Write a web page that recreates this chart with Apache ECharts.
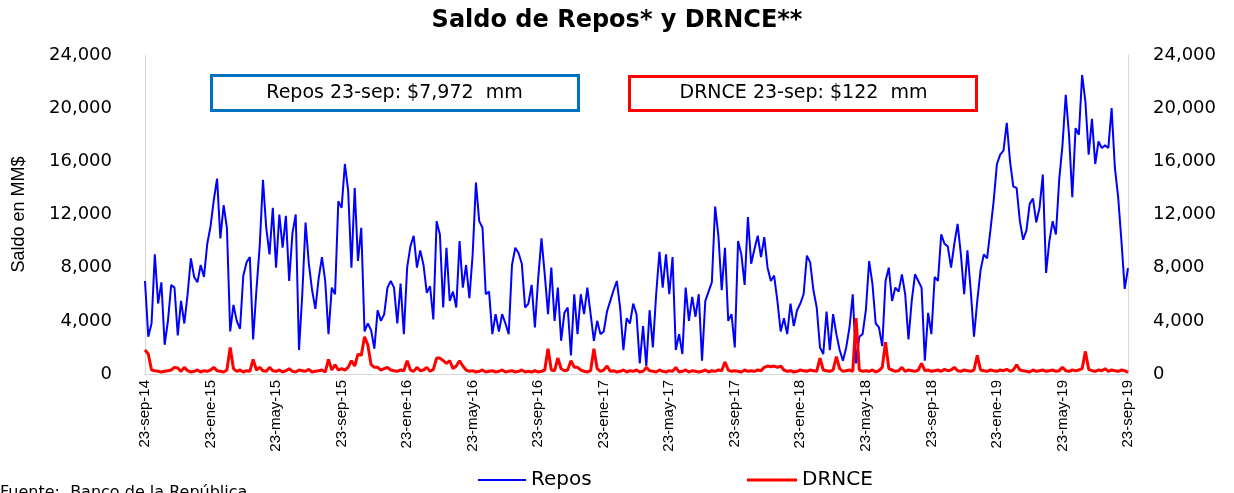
<!DOCTYPE html>
<html>
<head>
<meta charset="utf-8">
<script src="https://cdn.jsdelivr.net/npm/echarts@6/dist/echarts.min.js"></script>
<style>
  html, body { margin: 0; padding: 0; background: #fff; }
  #chart { width: 1234px; height: 493px; }
</style>
</head>
<body>
<div id="chart"></div>
<script>
// one label every 20 points (4 months)
const tickLabels = ['23-sep-14', '23-ene-15', '23-may-15', '23-sep-15', '23-ene-16', '23-may-16',
  '23-sep-16', '23-ene-17', '23-may-17', '23-sep-17', '23-ene-18', '23-may-18',
  '23-sep-18', '23-ene-19', '23-may-19', '23-sep-19']

// Saldo de Repos (MM$)
const repos = [
  7000, 2800, 3800, 9000, 5300, 6900, 2200, 4000, 6700, 6500, 2900, 5500, 3800, 6000, 8700, 7300, 6900, 8200, 7300, 9800,
  11100, 13100, 14700, 10200, 12700, 11000, 3200, 5200, 4000, 3400, 7400, 8400, 8800, 2600, 6300, 9600, 14600, 11000, 9000, 12500,
  8000, 12000, 9500, 11900, 7000, 10600, 12000, 1800, 6000, 11400, 8300, 6300, 4900, 7200, 8800, 7000, 3000, 6500, 6000, 13000,
  12500, 15800, 13800, 8000, 14000, 8500, 11000, 3200, 3800, 3300, 1900, 4800, 4000, 4500, 6500, 7000, 6500, 3800, 6800, 3000,
  8000, 9600, 10400, 8000, 9300, 8200, 6100, 6600, 4100, 11500, 10500, 5000, 9500, 5500, 6200, 5000, 10000, 6500, 8200, 5700,
  9000, 14400, 11500, 11000, 6000, 6200, 3000, 4500, 3200, 4500, 3800, 3000, 8200, 9500, 9100, 8300, 5000, 5300, 6700, 3500,
  7200, 10200, 7500, 4500, 8000, 4000, 6500, 2500, 4600, 5000, 1400, 6000, 3000, 6000, 4500, 6500, 4500, 2500, 4000, 3000,
  3200, 4700, 5500, 6300, 7000, 5000, 1800, 4200, 3800, 5300, 4500, 800, 3600, 600, 4800, 2000, 6000, 9200, 6500, 9000,
  6000, 8800, 1800, 3000, 1500, 6500, 4000, 5800, 4300, 6000, 1000, 5500, 6200, 6900, 12600, 10400, 6300, 9500, 4000, 4500,
  2000, 10000, 9000, 6700, 11800, 8300, 9400, 10400, 8800, 10300, 8000, 7000, 7400, 5500, 3200, 4200, 3000, 5300, 3600, 4800,
  5300, 6000, 8900, 8400, 6300, 5000, 2000, 1500, 4700, 1800, 4500, 3000, 1800, 1000, 2000, 3500, 6000, 800, 2800, 3000,
  4800, 8500, 6800, 3800, 3500, 2100, 7000, 8000, 5500, 6500, 6200, 7500, 6000, 2600, 5500, 7500, 7000, 6500, 1000, 4600,
  3000, 7300, 7000, 10500, 9800, 9600, 8000, 9800, 11300, 9000, 6000, 9300, 6300, 2800, 5500, 7800, 9000, 8700, 10800, 13000,
  15800, 16500, 16800, 18900, 16000, 14100, 14000, 11500, 10100, 10800, 12800, 13200, 11400, 12500, 15000, 7600, 10000, 11500, 10500, 14600,
  17200, 21000, 18000, 13300, 18500, 18000, 22500, 20500, 16500, 19200, 15800, 17500, 17000, 17200, 17000, 20000, 15500, 13300, 10000, 6400,
  7972
]

// Saldo DRNCE (MM$)
const drnce = [
  1800, 1500, 300, 250, 200, 150, 200, 250, 300, 500, 450, 200, 500, 250, 150, 200, 300, 150, 250, 200,
  300, 500, 250, 200, 150, 300, 2000, 400, 200, 300, 150, 250, 200, 1100, 300, 500, 250, 200, 500, 250,
  200, 300, 150, 250, 400, 200, 150, 300, 250, 200, 350, 150, 200, 250, 300, 150, 1100, 300, 700, 300,
  400, 300, 500, 1000, 600, 1500, 1400, 2800, 2200, 700, 500, 500, 300, 400, 500, 300, 250, 200, 300, 250,
  1000, 300, 200, 500, 250, 300, 500, 200, 350, 1200, 1200, 1000, 800, 1000, 400, 600, 1000, 600, 300, 200,
  250, 150, 200, 300, 150, 200, 250, 150, 200, 300, 150, 200, 250, 150, 200, 300, 150, 200, 150, 250,
  150, 200, 300, 1900, 300, 250, 1200, 400, 250, 300, 1000, 500, 500, 300, 200, 150, 250, 1900, 400, 200,
  300, 600, 200, 250, 150, 200, 300, 150, 250, 200, 300, 150, 200, 500, 250, 200, 150, 300, 200, 150,
  250, 200, 500, 150, 200, 300, 150, 250, 200, 150, 200, 300, 150, 250, 200, 300, 250, 900, 300, 200,
  250, 200, 150, 300, 200, 250, 200, 300, 250, 500, 600, 550, 600, 500, 600, 300, 200, 250, 150, 200,
  300, 250, 200, 300, 250, 200, 1200, 300, 250, 200, 300, 1300, 400, 200, 250, 300, 200, 4200, 300, 200,
  250, 200, 300, 150, 250, 500, 2400, 400, 300, 200, 250, 500, 200, 300, 250, 200, 300, 800, 250, 300,
  200, 250, 300, 200, 350, 250, 300, 500, 250, 200, 300, 250, 200, 300, 1400, 300, 250, 200, 300, 250,
  200, 300, 250, 350, 200, 300, 700, 300, 250, 200, 150, 300, 200, 250, 300, 200, 250, 300, 200, 250,
  500, 250, 200, 300, 250, 300, 400, 1700, 350, 250, 200, 300, 250, 400, 200, 300, 250, 200, 300, 250,
  122
]

const categories = repos.map((v, i) => String(i))
const fmt = v => v.toLocaleString('en-US')

const chart = echarts.init(document.getElementById('chart'))
chart.setOption({
  animation: false,
  backgroundColor: '#fff',
  title: {
    text: 'Saldo de Repos* y DRNCE**',
    left: 'center',
    top: 4,
    textStyle: { fontFamily: 'DejaVu Sans', fontWeight: 'bold', fontSize: 24, color: '#000' }
  },
  grid: { left: 145, right: 106, top: 55, bottom: 119, outerBoundsMode: 'none' },
  legend: [{
    data: [{ name: 'Repos', icon: 'rect' }],
    left: 478, top: 470, padding: 0,
    itemWidth: 48, itemHeight: 2, itemGap: 0,
    textStyle: { fontFamily: 'DejaVu Sans', fontSize: 20, color: '#000' }
  }, {
    data: [{ name: 'DRNCE', icon: 'rect' }],
    left: 747, top: 470, padding: 0,
    itemWidth: 50, itemHeight: 3, itemGap: 0,
    textStyle: { fontFamily: 'DejaVu Sans', fontSize: 20, color: '#000' }
  }],
  xAxis: {
    type: 'category',
    data: categories,
    boundaryGap: false,
    axisLine: { lineStyle: { color: '#d9d9d9', width: 1 } },
    axisTick: { show: false },
    axisLabel: {
      interval: idx => idx % 20 === 0,
      formatter: (v, idx) => tickLabels[idx / 20] || '',
      rotate: 90,
      margin: 6,
      fontFamily: 'Liberation Sans',
      fontSize: 15,
      color: '#000'
    },
    splitLine: { show: false }
  },
  yAxis: [{
    type: 'value',
    min: 0, max: 24000, interval: 4000,
    name: 'Saldo en MM$',
    nameLocation: 'middle',
    nameRotate: 90,
    nameGap: 117,
    nameTextStyle: { fontFamily: 'Liberation Sans', fontSize: 18, color: '#000' },
    axisLine: { show: true, lineStyle: { color: '#d9d9d9' } },
    axisTick: { show: false },
    splitLine: { show: false },
    axisLabel: { formatter: fmt, margin: 33, fontFamily: 'DejaVu Sans', fontSize: 18, color: '#000' }
  }, {
    type: 'value',
    min: 0, max: 24000, interval: 4000,
    position: 'right',
    axisLine: { show: true, lineStyle: { color: '#d9d9d9' } },
    axisTick: { show: false },
    splitLine: { show: false },
    axisLabel: { formatter: fmt, margin: 25, fontFamily: 'DejaVu Sans', fontSize: 18, color: '#000' }
  }],
  series: [{
    name: 'Repos',
    type: 'line',
    data: repos,
    yAxisIndex: 0,
    showSymbol: false,
    symbol: 'none',
    color: '#0000ff',
    lineStyle: { color: '#0000ff', width: 2 }
  }, {
    name: 'DRNCE',
    type: 'line',
    data: drnce,
    yAxisIndex: 1,
    showSymbol: false,
    symbol: 'none',
    color: '#ff0000',
    lineStyle: { color: '#ff0000', width: 3 }
  }],
  graphic: [{
    type: 'group',
    left: 210, top: 74,
    children: [{
      type: 'rect',
      shape: { x: 0, y: 0, width: 367, height: 35 },
      style: { fill: '#fff', stroke: '#0070c0', lineWidth: 3 }
    }, {
      type: 'text',
      x: 183, y: 18,
      style: {
        text: 'Repos 23-sep: $7,972  mm',
        fontFamily: 'DejaVu Sans', fontSize: 19, fill: '#000',
        align: 'center', verticalAlign: 'middle'
      }
    }]
  }, {
    type: 'group',
    left: 628, top: 75,
    children: [{
      type: 'rect',
      shape: { x: 0, y: 0, width: 347, height: 34 },
      style: { fill: '#fff', stroke: '#ff0000', lineWidth: 3 }
    }, {
      type: 'text',
      x: 174, y: 17,
      style: {
        text: 'DRNCE 23-sep: $122  mm',
        fontFamily: 'DejaVu Sans', fontSize: 19, fill: '#000',
        align: 'center', verticalAlign: 'middle'
      }
    }]
  }, {
    type: 'text',
    left: 0, top: 485,
    style: {
      text: 'Fuente:  Banco de la República',
      fontFamily: 'DejaVu Sans', fontSize: 16, fill: '#000'
    }
  }]
})
</script>
</body>
</html>
